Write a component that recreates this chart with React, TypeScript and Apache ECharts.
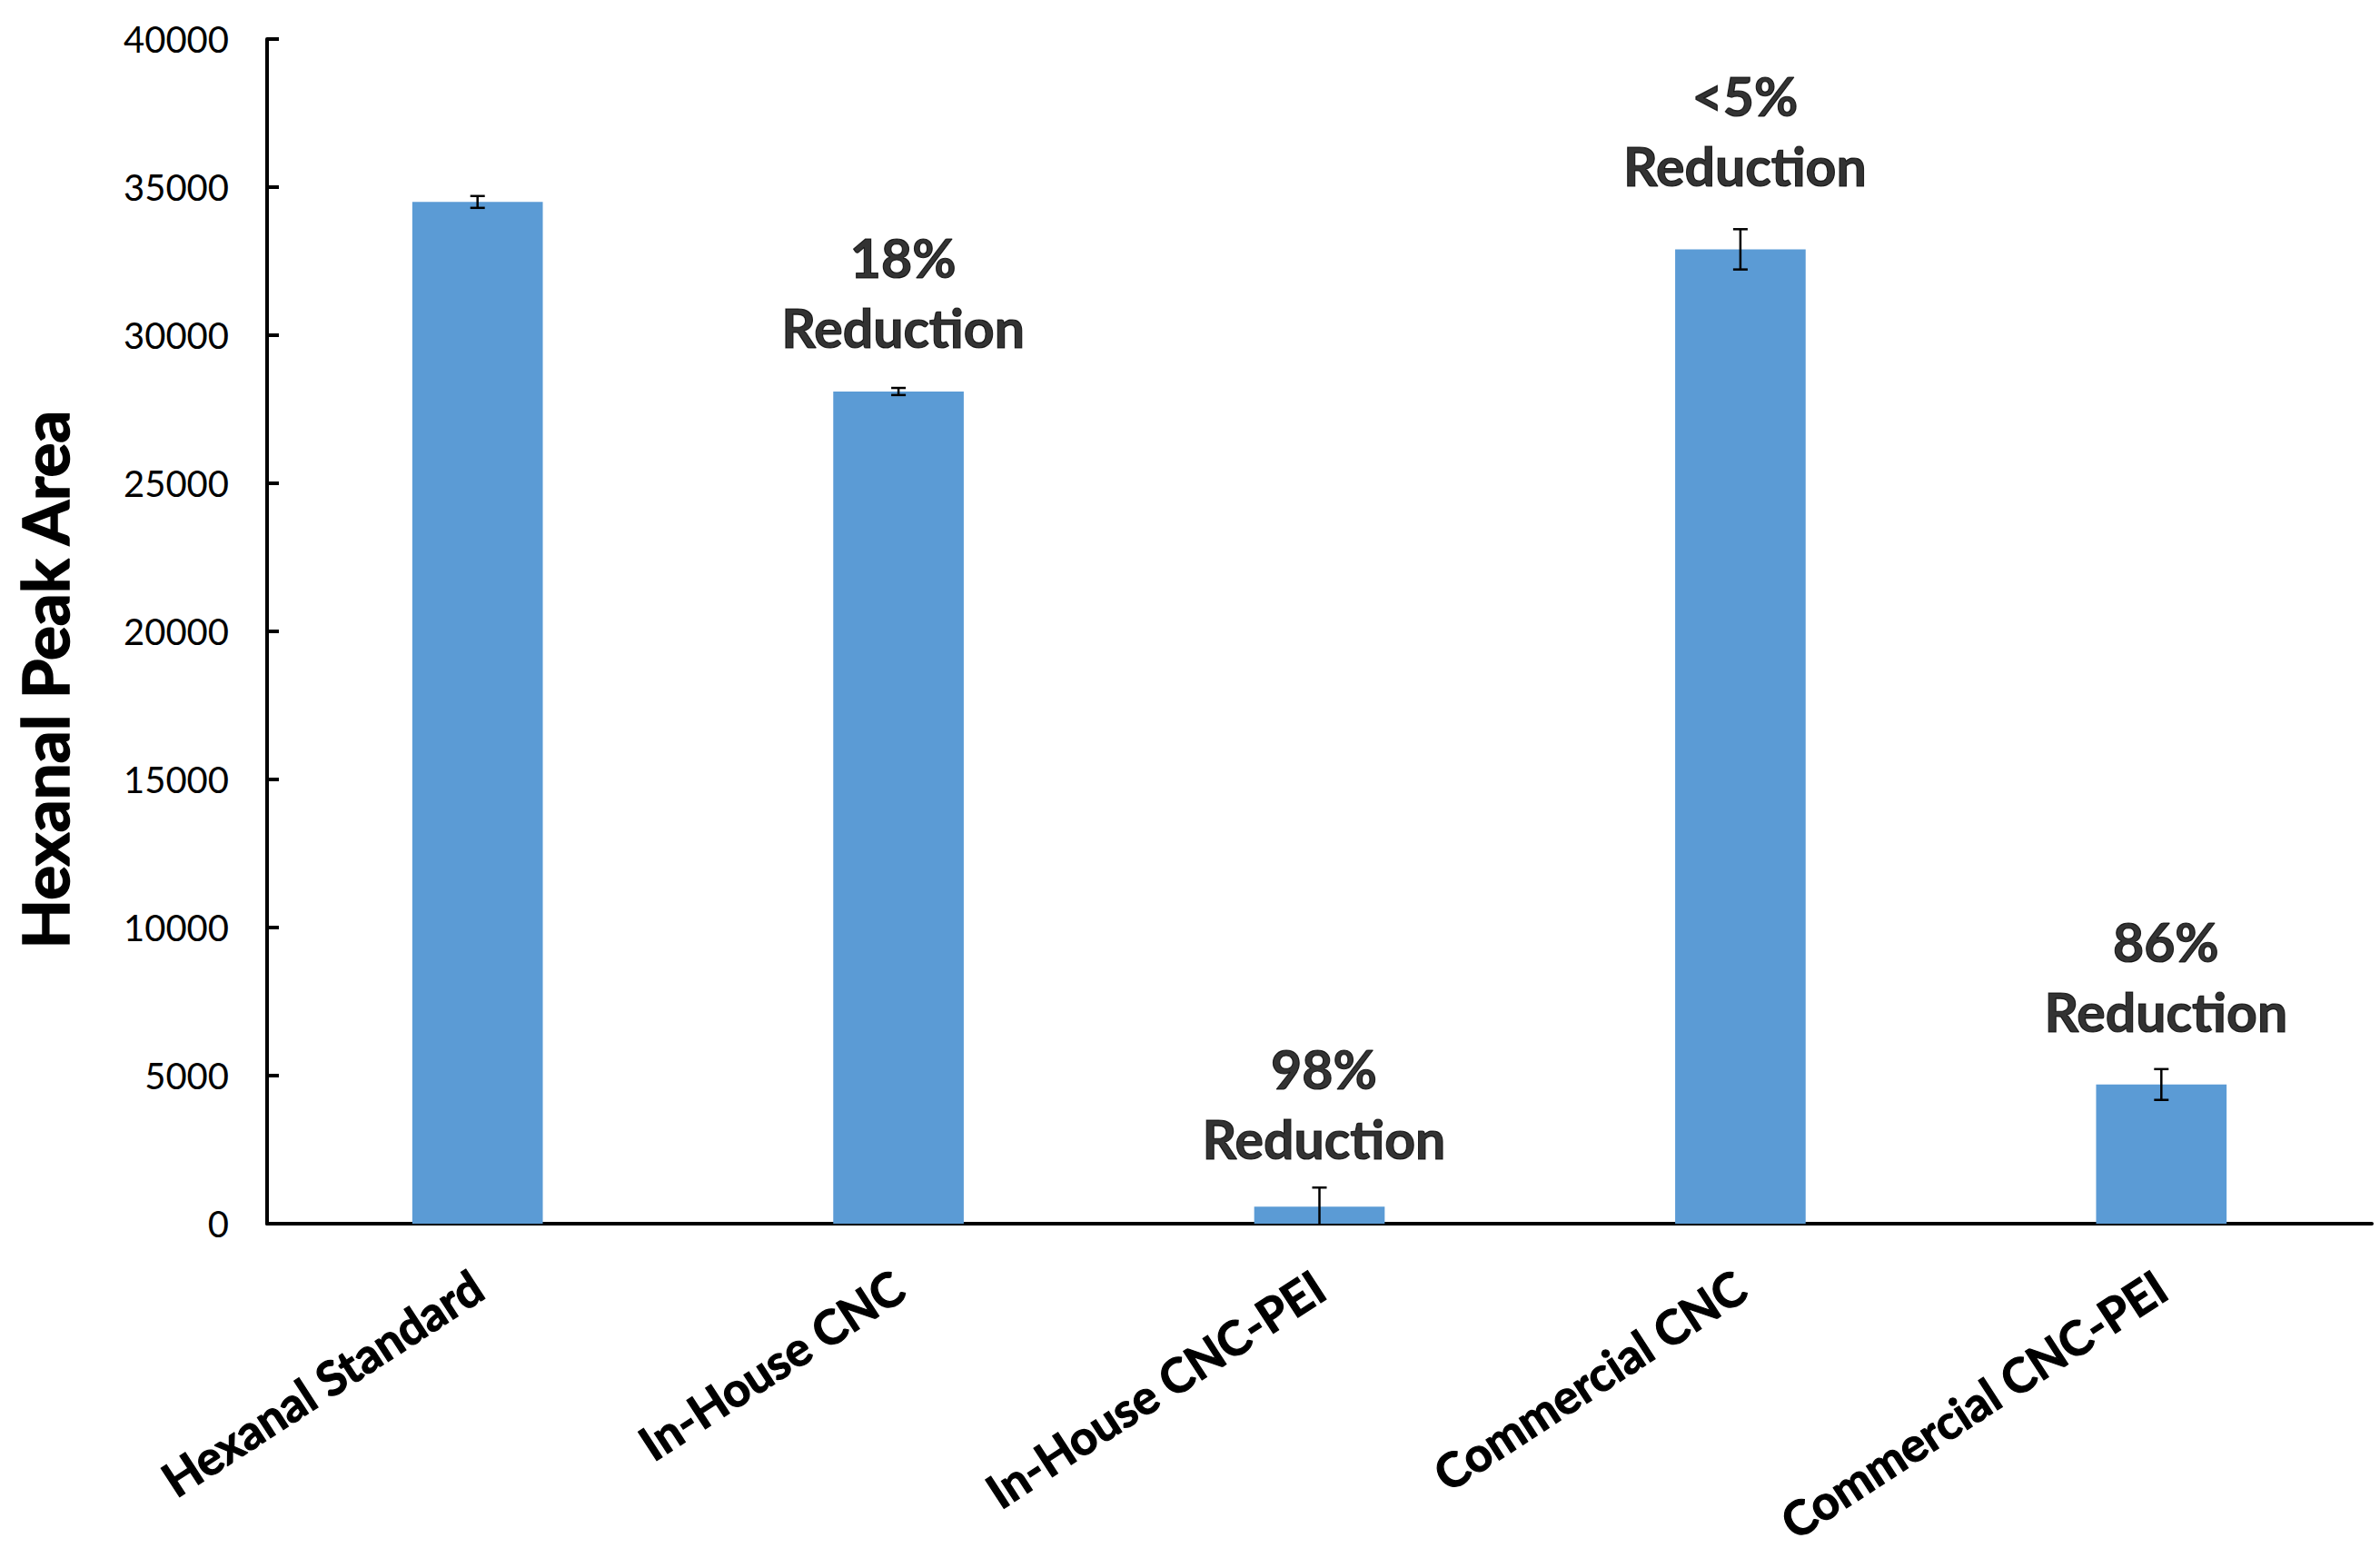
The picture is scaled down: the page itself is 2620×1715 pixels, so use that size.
import React, { useEffect, useRef } from "react";
import * as echarts from "echarts";

const categories = [
  "Hexanal Standard",
  "In-House CNC",
  "In-House CNC-PEI",
  "Commercial CNC",
  "Commercial CNC-PEI",
];
const peakArea = [34500, 28100, 575, 32900, 4700];
const errorSD = [200, 120, 645, 680, 520];
const annotationText = ["", "18%\nReduction", "98%\nReduction", "<5%\nReduction", "86%\nReduction"];
const annotationLevel = [null, 31450, 4050, 36900, 8350];
const yTicks = { min: 0, max: 40000, interval: 5000 };

const FONT = "Lato";

export default function App() {
  const ref = useRef<HTMLDivElement>(null);
  useEffect(() => {
    document.body.style.margin = "0";
    const chart = echarts.init(ref.current!, null, { renderer: "svg" });
    const errData = categories.map((c, i) => [i, peakArea[i], errorSD[i]]);
    const annData: any[] = [];
    categories.forEach((c, i) => {
      if (annotationLevel[i] != null) annData.push({ value: [i, annotationLevel[i]], text: annotationText[i] });
    });
    chart.setOption({
      animation: false,
      backgroundColor: "#ffffff",
      grid: { left: 294, right: 9, top: 43, bottom: 368, containLabel: false },
      xAxis: {
        type: "category",
        data: categories,
        boundaryGap: true,
        axisLine: { show: true, lineStyle: { color: "#000", width: 4 } },
        axisTick: { show: false },
        axisLabel: {
          interval: 0,
          rotate: 33,
          margin: 64,
          fontSize: 52,
          fontWeight: "bold",
          fontFamily: FONT,
          color: "#000",
          textBorderColor: "#000",
          textBorderWidth: 1.2,
        },
        splitLine: { show: false },
      },
      yAxis: {
        type: "value",
        min: yTicks.min,
        max: yTicks.max,
        interval: yTicks.interval,
        axisLine: { show: true, lineStyle: { color: "#000", width: 4 } },
        axisTick: { show: true, inside: true, length: 13, lineStyle: { color: "#000", width: 4 } },
        axisLabel: {
          fontSize: 40,
          fontFamily: FONT,
          color: "#000",
          margin: 42,
          formatter: (v: number) => String(v),
        },
        splitLine: { show: false },
      },
      graphic: [
        {
          type: "text",
          x: 48,
          y: 748,
          rotation: Math.PI / 2,
          style: {
            text: "Hexanal Peak Area",
            fontSize: 71,
            fontWeight: "bold",
            fontFamily: FONT,
            fill: "#000",
            stroke: "#000",
            lineWidth: 1.5,
            align: "center",
            verticalAlign: "middle",
          },
        },
      ],
      series: [
        {
          type: "bar",
          data: peakArea,
          barWidth: "31%",
          itemStyle: { color: "#5B9BD5" },
        },
        {
          type: "custom",
          data: errData,
          z: 5,
          renderItem: (params: any, api: any) => {
            const i = api.value(0);
            const v = api.value(1);
            const e = api.value(2);
            const top = api.coord([i, v + e]);
            const lowVal = Math.max(0, v - e);
            const bot = api.coord([i, lowVal]);
            const half = 8;
            const style = { stroke: "#000", lineWidth: 2.5 };
            const children: any[] = [
              { type: "line", shape: { x1: top[0], y1: top[1], x2: bot[0], y2: bot[1] }, style },
              { type: "line", shape: { x1: top[0] - half, y1: top[1], x2: top[0] + half, y2: top[1] }, style },
            ];
            if (v - e > 0) {
              children.push({ type: "line", shape: { x1: bot[0] - half, y1: bot[1], x2: bot[0] + half, y2: bot[1] }, style });
            }
            return { type: "group", children };
          },
        },
        {
          type: "scatter",
          data: annData,
          symbolSize: 0,
          z: 6,
          label: {
            show: true,
            position: "inside",
            offset: [5, 0],
            formatter: (p: any) => p.data.text,
            fontSize: 59,
            lineHeight: 77,
            fontWeight: "bold",
            fontFamily: FONT,
            color: "#000",
            textBorderColor: "#000",
            textBorderWidth: 1.2,
            align: "center",
            verticalAlign: "middle",
          },
        },
      ],
    });
    return () => chart.dispose();
  }, []);
  return <div ref={ref} style={{ width: 2620, height: 1715 }} />;
}
